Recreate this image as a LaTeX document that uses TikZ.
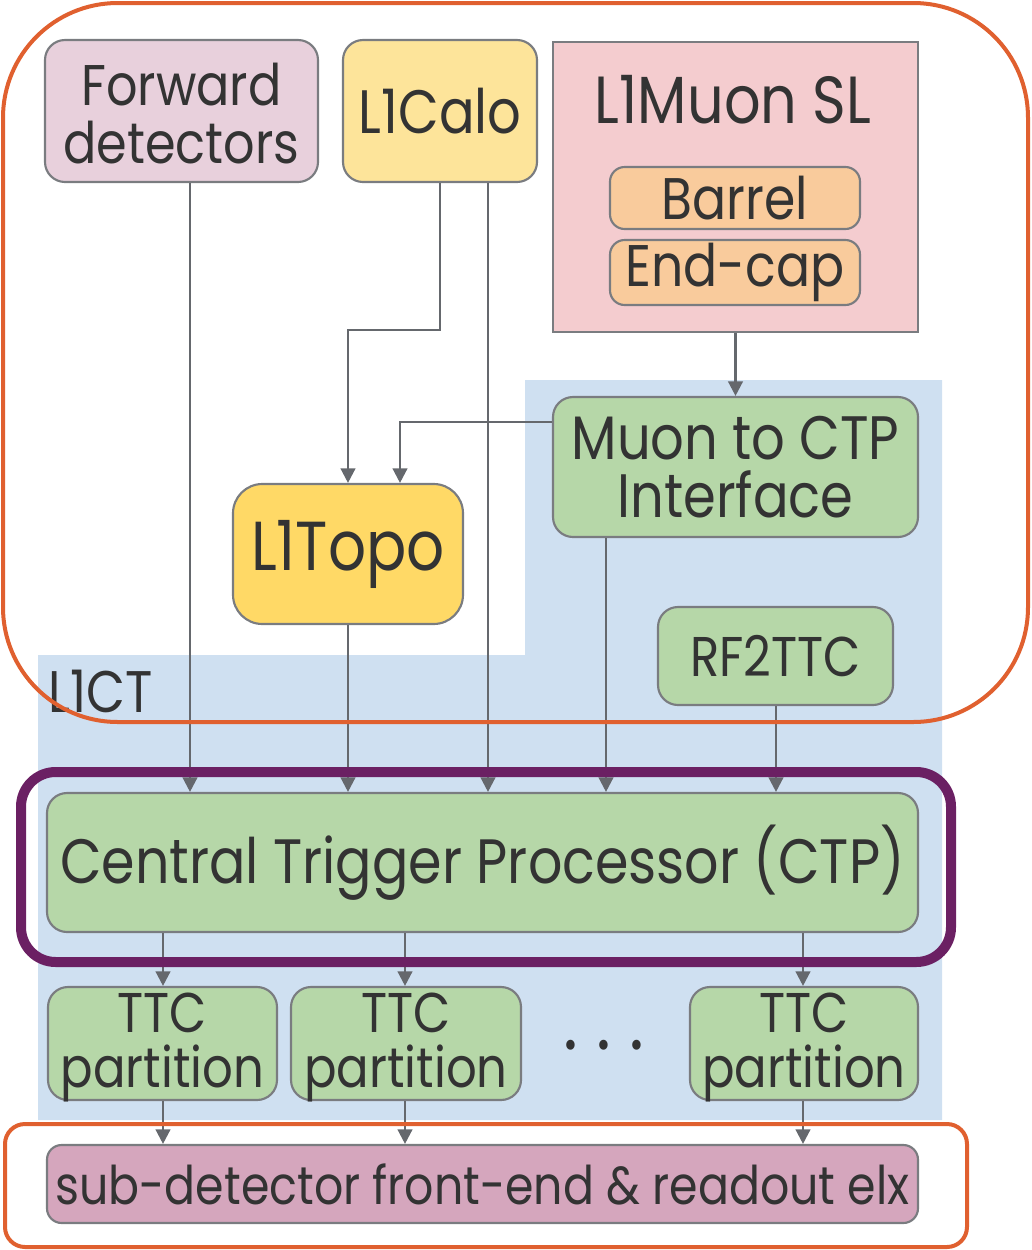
\documentclass[tikz,border=0pt]{standalone}
\usepackage{fontspec}
\setmainfont{Poppins}[FakeStretch=0.86]
\usetikzlibrary{arrows.meta,fit}

\definecolor{frameorange}{HTML}{E0602F}
\definecolor{framepurple}{HTML}{6B2063}
\definecolor{l1ctblue}{HTML}{CFE0F1}
\definecolor{edgegray}{HTML}{7A7C80}
\definecolor{wiregray}{HTML}{65686D}
\definecolor{fwdpink}{HTML}{E8D0DC}
\definecolor{calolight}{HTML}{FDE49A}
\definecolor{topoyellow}{HTML}{FFD966}
\definecolor{muonpink}{HTML}{F4CCCF}
\definecolor{muonorange}{HTML}{F9CB9C}
\definecolor{boxgreen}{HTML}{B6D7A8}
\definecolor{readoutpink}{HTML}{D5A6BD}
\definecolor{inktext}{HTML}{333333}

\newcommand{\fs}[2]{\fontsize{#1}{#2}\selectfont}

\tikzset{
  blockbox/.style={draw=edgegray, line width=1.6pt, rounded corners=15pt,
    inner sep=0pt},
  squarebox/.style={draw=edgegray, line width=1.6pt, inner sep=0pt},
  label text/.style={text=inktext, align=center, inner sep=0pt},
  wire/.style={draw=wiregray, line width=1.8pt,
    -{Triangle[width=11pt,length=11pt]}},
}

\begin{document}
\begin{tikzpicture}[x=0.75pt,y=-0.75pt]
\useasboundingbox (0,0) rectangle (1032,1250);

% L1CT background area
\fill[l1ctblue] (38,655) -- (525,655) -- (525,380) -- (942,380)
  -- (942,1120) -- (38,1120) -- cycle;
\node[label text, anchor=base west, font=\fs{44}{44}] (l1ct) at (48,712) {L1CT};

% Input systems
\node[blockbox, fill=fwdpink, fit={(45,40) (318,182)}] (fwd) {};
\node[label text, font=\fs{43}{44}] (fwdtext) at ([yshift=-2pt]fwd.center) {Forward\\detectors};
\node[blockbox, fill=calolight, fit={(343,40) (537,182)}] (calo) {};
\node[label text, font=\fs{46}{46}] (calotext) at (calo.center) {L1Calo};
\node[squarebox, fill=muonpink, fit={(553,42) (918,332)}] (muon) {};
\node[label text, font=\fs{50}{50}, anchor=base] (muontext) at (733,123) {L1Muon SL};
\node[blockbox, fill=muonorange, rounded corners=11pt, fit={(610,167) (860,229)}] (barrel) {};
\node[label text, font=\fs{44}{44}] (barreltext) at (barrel.center) {Barrel};
\node[blockbox, fill=muonorange, rounded corners=11pt, fit={(610,240) (860,305)}] (endcap) {};
\node[label text, font=\fs{44}{44}] (endcaptext) at (endcap.center) {End-cap};

% L1CT components
\node[blockbox, fill=boxgreen, fit={(553,397) (918,537)}] (mucti) {};
\node[label text, font=\fs{46}{43}] (muctitext) at (mucti.center) {Muon to CTP\\Interface};
\node[blockbox, fill=topoyellow, rounded corners=22pt, fit={(233,484) (463,624)}] (topo) {};
\node[label text, font=\fs{52}{52}] (topotext) at (topo.center) {L1Topo};
\node[blockbox, fill=boxgreen, fit={(658,607) (893,705)}] (rf) {};
\node[label text, font=\fs{42}{42}] (rftext) at (rf.center) {RF2TTC};
\node[blockbox, fill=boxgreen, fit={(47,793) (918,932)}] (ctp) {};
\node[label text, font=\fs{47}{47}] (ctptext) at (ctp.center) {Central Trigger Processor (CTP)};

\node[blockbox, fill=boxgreen, fit={(48,987) (277,1100)}] (ttca) {};
\node[blockbox, fill=boxgreen, fit={(291,987) (521,1100)}] (ttcb) {};
\node[blockbox, fill=boxgreen, fit={(690,987) (918,1100)}] (ttcc) {};
\foreach \b in {ttca,ttcb,ttcc}
  \node[label text, font=\fs{42}{41}] at ([yshift=-3pt]\b.center) {TTC\\partition};
\node[label text, font=\fs{60}{60}] (dots) at (604,1056) {·\hspace{14pt}·\hspace{14pt}·};

\node[blockbox, fill=readoutpink, rounded corners=11pt, fit={(47,1145) (918,1223)}] (fe) {};
\node[label text, font=\fs{40}{40}] (fetext) at (fe.center) {sub-detector front-end \& readout elx};

% Connections into the CTP
\draw[wire] (fwd.south -| 190,0) -- (ctp.north -| 190,0);
\draw[wire] (calo.south -| 488,0) -- (ctp.north -| 488,0);
\draw[wire] (calo.south -| 440,0) -- (440,330) -- (348,330) -- (topo.north -| 348,0);
\draw[wire] (muon.south) -- (mucti.north -| muon.south);
\draw[wire] (mucti.west |- 0,422) -- (400,422) -- (topo.north -| 400,0);
\draw[wire] (topo.south -| 348,0) -- (ctp.north -| 348,0);
\draw[wire] (mucti.south -| 606,0) -- (ctp.north -| 606,0);
\draw[wire] (rf.south -| 776,0) -- (ctp.north -| 776,0);

% Distribution to partitions and front-ends
\foreach \b/\x in {ttca/163,ttcb/405,ttcc/803} {
  \draw[wire] (ctp.south -| \x,0) -- (\b.north -| \x,0);
  \draw[wire] (\b.south -| \x,0) -- (fe.north -| \x,0);
}

% Highlight frames
\draw[frameorange, line width=3pt, rounded corners=86pt] (3,3) rectangle (1028,722);
\draw[framepurple, line width=7.5pt, rounded corners=26pt] (21,772) rectangle (951,962);
\draw[frameorange, line width=3pt, rounded corners=15pt] (5,1124) rectangle (967,1247);
\end{tikzpicture}
\end{document}
